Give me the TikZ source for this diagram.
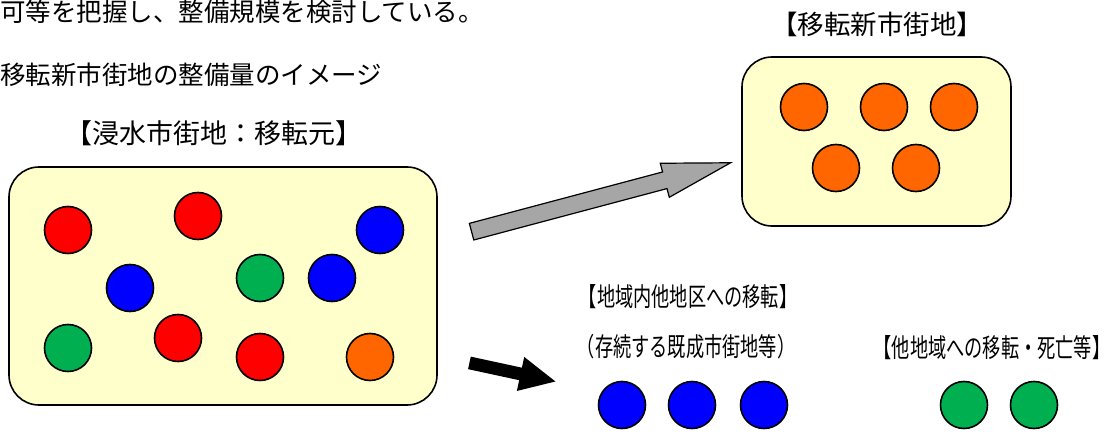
\documentclass[tikz,border=0pt]{standalone}
\usepackage{fontspec}
\usepackage{tikz}
\usetikzlibrary{shapes.arrows}
\newfontfamily\jp{Noto Sans CJK JP}
\newfontfamily\jpnarrow[FakeStretch=0.7]{Noto Sans CJK JP}
\definecolor{boxyellow}{RGB}{255,255,204}
\definecolor{dotred}{RGB}{255,0,0}
\definecolor{dotblue}{RGB}{0,0,255}
\definecolor{dotgreen}{RGB}{0,176,80}
\definecolor{dotorange}{RGB}{255,102,0}
\definecolor{arrowgray}{RGB}{166,166,166}

\begin{document}
\begin{tikzpicture}
[x=1pt,y=-1pt,every node/.style={inner sep=0pt},
 area/.style={draw,line width=1.6pt,rounded corners=30pt,fill=boxyellow},
 dot/.style={circle,draw,line width=1.6pt,minimum size=47pt},
 rdot/.style={dot,fill=dotred},
 bdot/.style={dot,fill=dotblue},
 gdot/.style={dot,fill=dotgreen},
 odot/.style={dot,fill=dotorange},
 bigtext/.style={font=\jp\fontsize{25.5}{30}\selectfont},
 smalltext/.style={font=\jpnarrow\fontsize{26}{30}\selectfont}]
\useasboundingbox (0,0) rectangle (1112,436);
% heading lines
\node[bigtext,anchor=west] (line1) at (0,12) {可等を把握し、整備規模を検討している。};
\node[bigtext,anchor=west] (line2) at (0,75) {移転新市街地の整備量のイメージ};
% areas
\node[area,minimum width=428,minimum height=238] (src) at (223,286) {};
\node[area,minimum width=269,minimum height=169] (new) at (876.5,141.5) {};
\node[bigtext,font=\jp\fontsize{27}{30}\selectfont] (srclabel) at (214,133) {【浸水市街地：移転元】};
\node[bigtext,font=\jp\fontsize{26.5}{30}\selectfont] (newlabel) at (877,24) {【移転新市街地】};
% households in the flooded area
\node[rdot] (c1) at (68,230) {};
\node[rdot] (c2) at (198,216) {};
\node[bdot] (c3) at (380,230) {};
\node[bdot] (c4) at (130,288) {};
\node[gdot] (c5) at (260,278) {};
\node[bdot] (c6) at (332,278) {};
\node[gdot] (c7) at (68,348) {};
\node[rdot] (c8) at (178,338) {};
\node[rdot] (c9) at (260,357) {};
\node[odot] (c10) at (370,357) {};
% households in the new area
\node[odot] (n1) at (804,107) {};
\node[odot] (n2) at (884,107) {};
\node[odot] (n3) at (954,107) {};
\node[odot] (n4) at (836,168) {};
\node[odot] (n5) at (916,168) {};
% arrows
\node[single arrow,draw,line width=1.2pt,fill=arrowgray,rotate=14.9,
  inner ysep=8pt,minimum height=268,minimum width=34,
  single arrow head extend=9pt,single arrow tip angle=29] (grayarrow) at (585,201.5) {};
\node[single arrow,fill=black,rotate=-12.2,
  inner ysep=6.2pt,minimum height=88,minimum width=34,
  single arrow head extend=11pt,single arrow tip angle=52] (blackarrow) at (506,370.8) {};
% remaining households
\node[smalltext] (inlabel) at (688,297) {【地域内他地区への移転】};
\node[smalltext] (insub) at (686,347) {（存続する既成市街地等）};
\node[smalltext] (outlabel) at (992,348) {【他地域への移転・死亡等】};
\node[bdot] (b1) at (622,405) {};
\node[bdot] (b2) at (692,405) {};
\node[bdot] (b3) at (764,405) {};
\node[gdot] (g1) at (964,405) {};
\node[gdot] (g2) at (1034,405) {};
\end{tikzpicture}
\end{document}
